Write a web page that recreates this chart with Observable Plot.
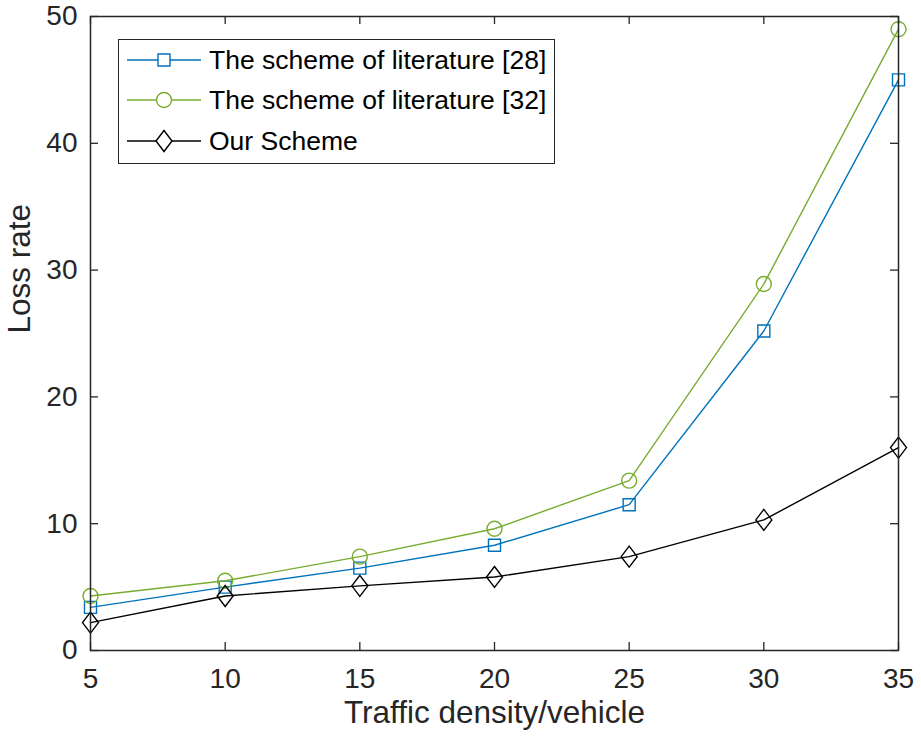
<!DOCTYPE html>
<html>
<head>
<meta charset="utf-8">
<script src="https://cdn.jsdelivr.net/npm/d3@7"></script>
<script src="https://cdn.jsdelivr.net/npm/@observablehq/plot@0.6"></script>
<style>
  html, body { margin: 0; padding: 0; background: #fff; }
  #wrap { position: relative; width: 921px; height: 742px; font-family: "Liberation Sans", Arial, Helvetica, sans-serif; }
  #legend { position: absolute; left: 118px; top: 39px; width: 435px; height: 123px; border: 1.5px solid #262626; background: #fff; box-sizing: content-box; }
  .row { position: absolute; left: 0; height: 40px; display: flex; align-items: center; }
  .row span { font-size: 26.5px; color: #000; margin-left: 6px; white-space: nowrap; }
</style>
</head>
<body>
<div id="wrap"></div>
<script>
// ---- data ----
const density = [5, 10, 15, 20, 25, 30, 35];
const lit28 = [3.4, 5.0, 6.5, 8.3, 11.5, 25.2, 45.0];
const lit32 = [4.3, 5.5, 7.4, 9.6, 13.4, 28.9, 49.0];
const ours  = [2.2, 4.3, 5.1, 5.8, 7.4, 10.3, 16.0];
const seriesNames = ["The scheme of literature [28]", "The scheme of literature [32]", "Our Scheme"];
const xTicks = [5, 10, 15, 20, 25, 30, 35];
const yTicks = [0, 10, 20, 30, 40, 50];
const xLabel = "Traffic density/vehicle";
const yLabel = "Loss rate";

const colors = ["#0072BD", "#77AC30", "#000000"];
const squareSym = { draw(ctx) { const h = 6; ctx.moveTo(-h, -h); ctx.lineTo(h, -h); ctx.lineTo(h, h); ctx.lineTo(-h, h); ctx.closePath(); } };
const circleSym = { draw(ctx) { const r = 7.5; ctx.moveTo(r, 0); ctx.arc(0, 0, r, 0, 2 * Math.PI); } };
const diamondSym = { draw(ctx) { const w = 8, h = 10.5; ctx.moveTo(0, -h); ctx.lineTo(w, 0); ctx.lineTo(0, h); ctx.lineTo(-w, 0); ctx.closePath(); } };
const symbols = [squareSym, circleSym, diamondSym];

const allSeries = [lit28, lit32, ours];
const table = [];
allSeries.forEach((vals, si) => vals.forEach((v, i) => table.push({x: density[i], y: v, s: si})));

const W = 921, H = 742, mL = 90, mR = 23, mT = 16, mB = 92;
const pw = W - mL - mR, ph = H - mT - mB;
const tickLen = 8;
const axisColor = "#262626";

const marks = [];
// series lines + markers
allSeries.forEach((vals, si) => {
  const d = table.filter(r => r.s === si);
  marks.push(Plot.line(d, {x: "x", y: "y", stroke: colors[si], strokeWidth: 1.4}));
  marks.push(Plot.dot(d, {x: "x", y: "y", stroke: colors[si], strokeWidth: 1.4, fill: "none", symbol: symbols[si], r: 1}));
});
// inward ticks on all four sides
marks.push(Plot.tickX(xTicks, {x: d => d, stroke: axisColor, strokeWidth: 1.3, insetTop: ph - tickLen}));
marks.push(Plot.tickX(xTicks, {x: d => d, stroke: axisColor, strokeWidth: 1.3, insetBottom: ph - tickLen}));
marks.push(Plot.tickY(yTicks, {y: d => d, stroke: axisColor, strokeWidth: 1.3, insetRight: pw - tickLen}));
marks.push(Plot.tickY(yTicks, {y: d => d, stroke: axisColor, strokeWidth: 1.3, insetLeft: pw - tickLen}));
marks.push(Plot.frame({stroke: axisColor, strokeWidth: 1.5}));
// tick labels
marks.push(Plot.axisX(xTicks, {tickSize: 0, tickPadding: 18, fontSize: 28, label: null, color: axisColor}));
marks.push(Plot.axisY(yTicks, {tickSize: 0, tickPadding: 13, fontSize: 28, label: null, color: axisColor}));
// axis titles
marks.push(Plot.text([xLabel], {text: d => d, frameAnchor: "bottom", dy: 72, fontSize: 31.5, fill: axisColor}));
marks.push(Plot.text([yLabel], {text: d => d, frameAnchor: "left", rotate: -90, dx: -71, fontSize: 31.5, fill: axisColor}));

const chart = Plot.plot({
  width: W, height: H,
  marginLeft: mL, marginRight: mR, marginTop: mT, marginBottom: mB,
  style: {fontFamily: '"Liberation Sans", Arial, Helvetica, sans-serif', background: "#fff", overflow: "visible"},
  x: {domain: [5, 35]},
  y: {domain: [0, 50]},
  marks
});
const wrap = document.getElementById("wrap");
wrap.appendChild(chart);

// legend overlay
const legend = document.createElement("div");
legend.id = "legend";
const rowTops = [3, 43, 84];
const symPaths = [
  "M31,17 h12 v12 h-12 z",
  "M44.5,23 a7.5,7.5 0 1,0 -15,0 a7.5,7.5 0 1,0 15,0",
  "M37,12.5 L45,23 L37,33.5 L29,23 Z"
];
seriesNames.forEach((name, i) => {
  const row = document.createElement("div");
  row.className = "row";
  row.style.top = (rowTops[i] - 3) + "px";
  const svgNS = "http://www.w3.org/2000/svg";
  const s = document.createElementNS(svgNS, "svg");
  s.setAttribute("width", "84"); s.setAttribute("height", "46");
  const ln = document.createElementNS(svgNS, "line");
  ln.setAttribute("x1", 8); ln.setAttribute("x2", 82); ln.setAttribute("y1", 23); ln.setAttribute("y2", 23);
  ln.setAttribute("stroke", colors[i]); ln.setAttribute("stroke-width", 1.4);
  const p = document.createElementNS(svgNS, "path");
  p.setAttribute("d", symPaths[i].replace(/M31/, "M39").replace("M44.5", "M52.5").replace("M37,12.5", "M45,12.5").replace("L45,23 L37,33.5 L29,23", "L53,23 L45,33.5 L37,23"));
  p.setAttribute("stroke", colors[i]); p.setAttribute("stroke-width", 1.4); p.setAttribute("fill", "#fff");
  s.appendChild(ln); s.appendChild(p);
  const t = document.createElement("span");
  t.textContent = name;
  row.appendChild(s); row.appendChild(t);
  legend.appendChild(row);
});
wrap.appendChild(legend);
</script>
</body>
</html>
